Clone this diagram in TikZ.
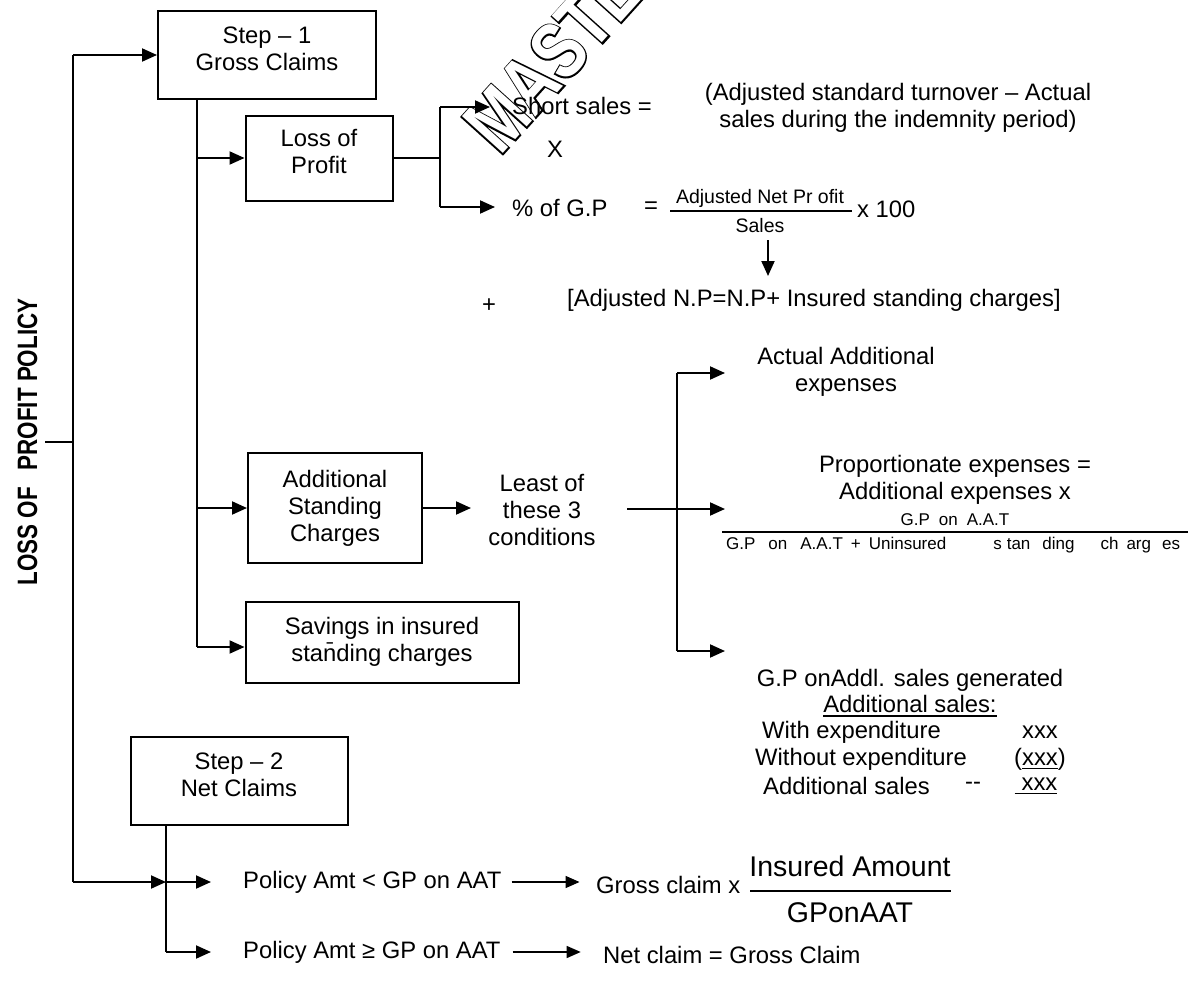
\documentclass[tikz,border=0pt]{standalone}
\usepackage{fontspec}
\setmainfont{Liberation Sans}
\newfontfamily\titlesans{Liberation Sans}[FakeStretch=0.8]
\newfontfamily\wmfill{Liberation Sans}[FakeStretch=0.78]
\newfontfamily\wmedge{Liberation Sans}[FakeStretch=0.78,FakeBold=3.5]
\usetikzlibrary{arrows.meta}
\newcommand\bodysize{\fontsize{23.8}{27}\selectfont}
\newcommand\fracsize{\fontsize{19.5}{22}\selectfont}
\newcommand\tinysize{\fontsize{17}{19}\selectfont}
\newcommand\bigsize{\fontsize{28.5}{32}\selectfont}
\newcommand\myul[1]{\leavevmode\vtop{\hbox{#1}\kern2.5pt\hrule height 1.3pt}}
\begin{document}
\begin{tikzpicture}[x=1pt,y=-1pt,
  wire/.style={line width=2pt},
  thinwire/.style={line width=1.5pt},
  arr/.style={line width=2pt,-{Triangle[length=15pt,width=13pt]}},
  thinarr/.style={line width=1.4pt,-{Triangle[length=14pt,width=12pt]}},
  box/.style={draw,line width=2pt,align=center,inner sep=0pt,font=\bodysize},
  txt/.style={inner sep=0pt,align=center,font=\bodysize},
  fractxt/.style={inner sep=0pt,font=\fracsize},
  tinytxt/.style={inner sep=0pt,font=\tinysize},
  bigtxt/.style={inner sep=0pt,font=\bigsize},
  wmark/.style={rotate=48,anchor=base west,inner sep=0pt},
  bar/.style={line width=1.3pt}]
\useasboundingbox (0,0) rectangle (1192,1001);

% ---- outlined watermark, drawn first so the texts sit on top ----
\node[wmark,font=\wmedge\bfseries\fontsize{80}{80}\selectfont] (wmA) at (500,157) {MASTER};
\node[wmark,font=\wmfill\bfseries\fontsize{80}{80}\selectfont,text=white] (wmB) at (500,157) {MASTER};

% ---- title and main spine ----
\node[anchor=base,rotate=90,inner sep=0pt,font=\titlesans\bfseries\fontsize{28}{30}\selectfont]
  (title) at (37,442) {LOSS OF\hspace{0.6em}PROFIT POLICY};
\coordinate (spT) at (73,55);
\coordinate (spB) at (73,882);
\coordinate (tick) at (45,442);
\draw[wire] (spT) -- (spB);
\draw[wire] (tick) -- (tick -| spT);

% ---- step 1 ----
\node[box,minimum width=218pt,minimum height=88pt] (s1) at (267,55) {Step – 1\\Gross Claims\\[-14pt]};
\draw[arr] (spT) -- (s1);

\coordinate (b1) at (197,647);
\draw[wire] (s1.south -| b1) -- (b1);

\node[box,minimum width=147pt,minimum height=85pt] (lop) at (319,158) {Loss of\\Profit\\[-14pt]};
\node[box,minimum width=174pt,minimum height=110pt] (asc) at (335,508) {Additional\\Standing\\Charges};
\node[box,minimum width=273pt,minimum height=81pt] (sav) at (382,642) {Savings in insured\\sta\={n}ding charges};
\draw[arr] (lop.west -| b1) -- (lop.west);
\draw[arr] (asc.west -| b1) -- (asc.west);
\draw[arr] (b1) -- (b1 -| sav.west);

% ---- loss of profit branch ----
\coordinate (lj) at (440,158);
\coordinate (ljT) at (440,107);
\coordinate (ljB) at (440,207);
\draw[wire] (lop.east) -- (lj);
\draw[wire] (ljT) -- (ljB);
\draw[arr] (ljT) -- ++(50,0) coordinate (ssTip);
\draw[arr] (ljB) -- ++(55,0) coordinate (gpTip);
\node[txt,anchor=west] (ss) at (512,106) {Short sales =};
\node[txt] (xx) at (555,149) {X};
\node[txt] (adj) at (898,108) {(Adjusted standard turnover – Actual\\sales during the indemnity period)};

\node[txt,anchor=west] (gp) at (512,208) {\% of G.P};
\node[txt] (eq) at (651,208) {=};
\node[fractxt] (fnum) at (760,198) {Adjusted Net Pr ofit};
\node[fractxt] (fden) at (760,226) {Sales};
\coordinate (fbL) at (670,211);
\coordinate (fbR) at (852,211);
\draw[bar] (fbL) -- (fbR);
\node[txt,anchor=west] (x100) at (857,209) {x 100};
\coordinate (dnT) at (768,240);
\coordinate (dnB) at (768,276);
\draw[arr] (dnT) -- (dnB);
\node[txt] (plus) at (489,306) {+};
\node[txt,anchor=west] (anp) at (567,300) {[Adjusted N.P=N.P+ Insured standing charges]};

% ---- additional standing charges branch ----
\node[txt] (least) at (542,510) {Least of\\these 3\\conditions};
\draw[arr] (asc.east) -- ++(48,0) coordinate (lTip);
\coordinate (v3T) at (677,373);
\coordinate (v3B) at (677,651);
\coordinate (mS) at (627,509);
\draw[wire] (v3T) -- (v3B);
\draw[arr] (v3T) -- ++(48,0) coordinate (t1);
\draw[arr] (mS) -- (mS -| t1) coordinate (t2);
\draw[arr] (v3B) -- (v3B -| t1) coordinate (t3);

\node[txt] (aae) at (846,372) {Actual Additional\\expenses};
\node[txt] (prop) at (955,480) {Proportionate expenses =\\Additional expenses x};
\node[tinytxt] (pnum) at (955,520) {G.P\hspace{9pt}on\hspace{9pt}A.A.T};
\coordinate (pbL) at (722,532);
\coordinate (pbR) at (1188,532);
\draw[bar] (pbL) -- (pbR);
\node[tinytxt,anchor=west] (pden) at (726,545)
  {G.P\hspace{13pt}on\hspace{13pt}A.A.T\hspace{8pt}+\hspace{8pt}Uninsured\hspace{47pt}s\hspace{5pt}tan\hspace{12pt}ding\hspace{26pt}ch\hspace{8pt}arg\hspace{11pt}es};

\node[txt] (gpas) at (910,680) {G.P onAddl. sales generated};
\node[txt] (asal) at (910,706) {\myul{Additional sales:}};
\node[txt,anchor=west] (r1l) at (762,732) {With expenditure};
\node[txt] (r1r) at (1040,732) {xxx};
\node[txt,anchor=west] (r2l) at (755,759) {Without expenditure};
\node[txt] (r2r) at (1040,759) {(\myul{xxx})};
\node[txt,anchor=west] (r3l) at (763,786) {Additional sales};
\node[txt] (r3m) at (973,786) {-{}-};
\node[txt] (r3r) at (1036,786) {\myul{\hspace{7pt}xxx}};

% ---- step 2 ----
\node[box,minimum width=217pt,minimum height=88pt] (s2) at (239,781) {Step – 2\\Net Claims\\[-14pt]};
\coordinate (b2) at (166,952);
\draw[thinwire] (s2.south -| b2) -- (b2);
\draw[arr] (spB) -- (spB -| b2);
\draw[arr] (spB -| b2) -- ++(45,0) coordinate (p1Tip);
\draw[arr] (b2) -- ++(45,0) coordinate (p2Tip);

\node[txt,anchor=west] (p1) at (243,882) {Policy Amt < GP on AAT};
\node[txt,anchor=west] (p2) at (243,952) {Policy Amt ≥ GP on AAT};
\draw[thinarr] ([xshift=10pt]p1.east) -- ++(68,0) coordinate (gcT);
\draw[thinarr] ([xshift=12pt]p2.east) -- ++(68,0) coordinate (ncT);
\node[txt,anchor=west] (gc) at (596,885) {Gross claim x};
\node[bigtxt] (ia) at (850,866) {Insured Amount};
\node[bigtxt] (gpaat) at (850,913) {GPonAAT};
\coordinate (ibL) at (750,891);
\coordinate (ibR) at (951,891);
\draw[bar] (ibL) -- (ibR);
\node[txt,anchor=west] (nc) at (603,955) {Net claim = Gross Claim};
\end{tikzpicture}
\end{document}
